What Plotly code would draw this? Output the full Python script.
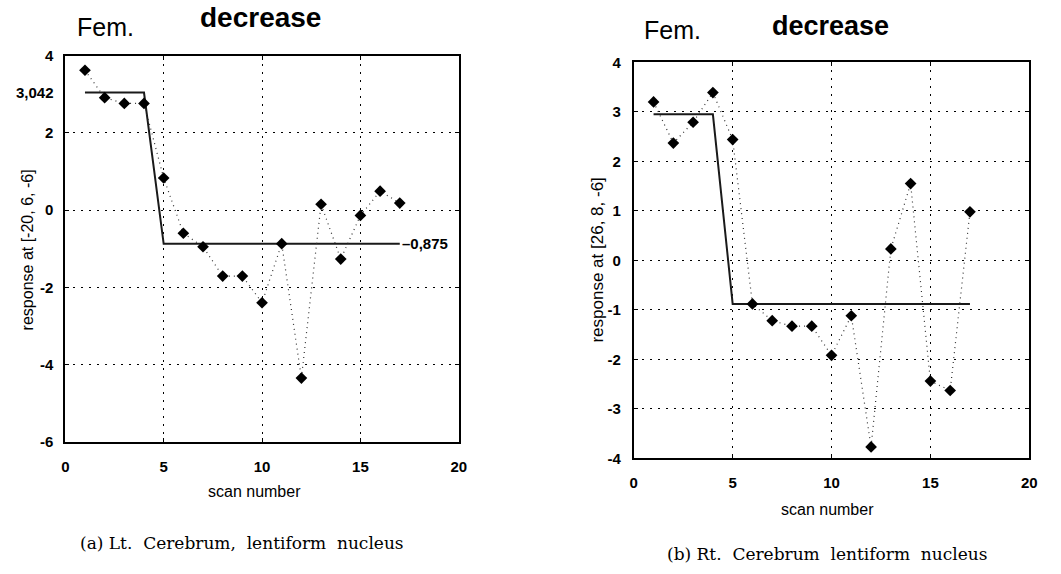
import plotly.graph_objects as go

# Scan index and responses at the two voxels
scans = list(range(1, 18))
lt_response = [3.62, 2.91, 2.76, 2.76, 0.83, -0.60, -0.95, -1.71, -1.71,
               -2.40, -0.87, -4.35, 0.15, -1.27, -0.14, 0.49, 0.18]
rt_response = [3.20, 2.37, 2.79, 3.39, 2.44, -0.88, -1.22, -1.33, -1.33,
               -1.92, -1.12, -3.77, 0.23, 1.55, -2.44, -2.63, 0.98]

# Step model: level before / after the change point
fit_scans = [1, 4, 5, 17]
lt_levels = [3.042, -0.875]
rt_levels = [2.95, -0.88]

lt_fit = [lt_levels[0], lt_levels[0], lt_levels[1], lt_levels[1]]
rt_fit = [rt_levels[0], rt_levels[0], rt_levels[1], rt_levels[1]]

# Tick positions and labels (plain hyphen for negatives)
x_ticks = [0, 5, 10, 15, 20]
lt_yticks = [-6, -4, -2, 0, 2, 4]
rt_yticks = [-4, -3, -2, -1, 0, 1, 2, 3, 4]

W, H = 1061, 574


def fx(p):
    return p / W


def fy(p):
    return 1 - p / H


SANS = "Liberation Sans, Arial, sans-serif"
SERIF = "DejaVu Serif, serif"

fig = go.Figure()

for xa, ya, resp, fit in [("x", "y", lt_response, lt_fit),
                          ("x2", "y2", rt_response, rt_fit)]:
    fig.add_trace(go.Scatter(
        x=fit_scans, y=fit, mode="lines", xaxis=xa, yaxis=ya,
        line=dict(color="#1a1a1a", width=2), showlegend=False,
        hoverinfo="skip"))
    fig.add_trace(go.Scatter(
        x=scans, y=resp, mode="lines+markers", xaxis=xa, yaxis=ya,
        line=dict(color="#333333", width=1.2, dash="1px,4px"),
        marker=dict(symbol="diamond", size=9, color="black"),
        showlegend=False))


def axis_style(ticks_list, **kw):
    base = dict(
        showline=True, linecolor="black", linewidth=2, mirror="allticks",
        ticks="inside", ticklen=4, tickwidth=1, tickcolor="black",
        showgrid=True, gridcolor="black", gridwidth=1, griddash="2px,6px",
        zeroline=False,
        tickfont=dict(family=SANS, size=15, color="black", weight="bold"),
        tickmode="array", tickvals=ticks_list,
        ticktext=[str(v) for v in ticks_list],
    )
    base.update(kw)
    return base


fig.update_layout(
    width=W, height=H, autosize=False,
    margin=dict(l=0, r=0, t=0, b=0),
    paper_bgcolor="white", plot_bgcolor="white",
    xaxis=axis_style(x_ticks, domain=[fx(62), fx(460)], range=[0, 20],
                     anchor="y", ticklabelstandoff=10),
    yaxis=axis_style(lt_yticks, domain=[fy(446), fy(48)], range=[-6, 4],
                     anchor="x", ticklabelstandoff=7),
    xaxis2=axis_style(x_ticks, domain=[fx(637), fx(1037)], range=[0, 20],
                      anchor="y2", ticklabelstandoff=10),
    yaxis2=axis_style(rt_yticks, domain=[fy(463), fy(55)], range=[-4, 4],
                      anchor="x2", ticklabelstandoff=8),
)

ann = []


def text(x, y, s, size, family=SANS, bold=False, xanchor="center",
         yanchor="middle", angle=0, xref="paper", yref="paper"):
    ann.append(dict(x=x, y=y, xref=xref, yref=yref, text=s, showarrow=False,
                    xanchor=xanchor, yanchor=yanchor, textangle=angle,
                    font=dict(family=family, size=size, color="black",
                              weight="bold" if bold else "normal")))


# Left panel labels
text(fx(103), fy(19), "Fem.", 25)
text(fx(259), fy(9), "decrease", 28, bold=True)
text(fx(24), fy(248), "response at [-20, 6, -6]", 16, angle=-90)
text(fx(253), fy(497), "scan number", 16)
text(fx(53), lt_levels[0], "3,042", 15, bold=True, xanchor="right",
     yref="y")
text(fit_scans[-1], lt_levels[1], "\u20130,875", 15, bold=True,
     xanchor="left", xref="x", yref="y")
text(fx(241), fy(550),
     "(a)\u00a0Lt.\u00a0 Cerebrum,\u00a0 lentiform\u00a0 nucleus", 17,
     family=SERIF)

# Right panel labels
text(fx(676), fy(22), "Fem.", 25)
text(fx(836), fy(18), "decrease", 27, bold=True)
text(fx(600), fy(259), "response at [26, 8, -6]", 17, angle=-90)
text(fx(833), fy(516), "scan number", 16)
text(fx(832), fy(562),
     "(b)\u00a0Rt.\u00a0 Cerebrum\u00a0 lentiform\u00a0 nucleus", 17,
     family=SERIF)

fig.update_layout(annotations=ann)

fig.write_html("out.html")
